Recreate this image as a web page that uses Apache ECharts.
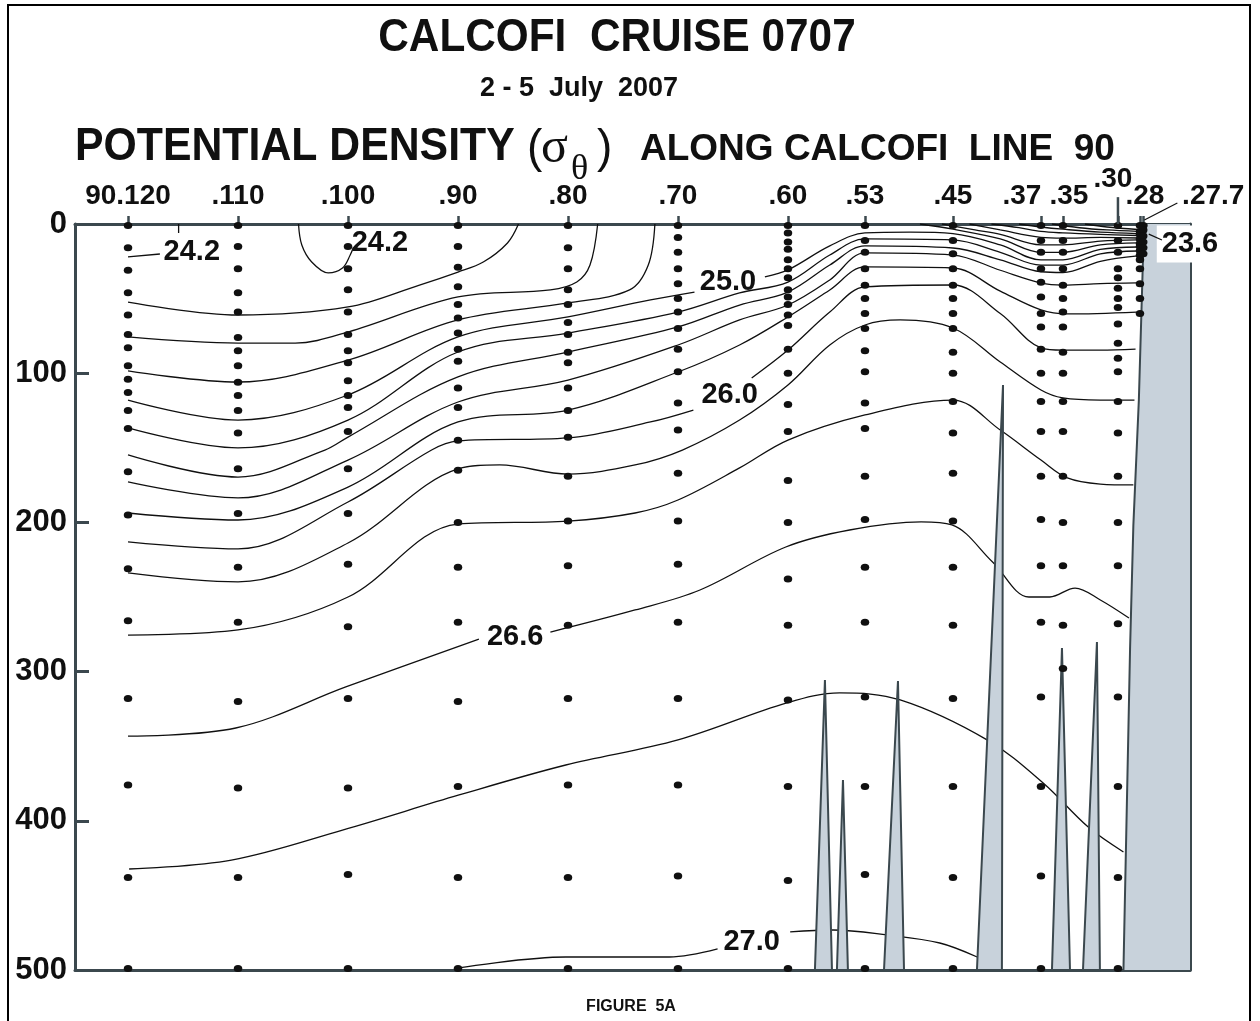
<!DOCTYPE html>
<html>
<head>
<meta charset="utf-8">
<title>CalCOFI Cruise 0707 - Potential Density, Line 90</title>
<script src="https://cdn.jsdelivr.net/npm/echarts@6/dist/echarts.min.js"></script>
<style>
  html, body { margin: 0; padding: 0; background: #ffffff; }
  #chart { width: 1260px; height: 1021px; }
</style>
</head>
<body>
<div id="chart"></div>
<script>
// ---- station axis (station number along line 90, offshore at left) ----
const stations = [120, 110, 100, 90, 80, 70, 60, 53, 45, 37, 35, 30, 28, 27.7];
const stationLabels = ['90.120', '.110', '.100', '.90', '.80', '.70', '.60', '.53', '.45', '.37', '.35', '.30', '.28', '.27.7'];
const depthTicks = [0, 100, 200, 300, 400, 500];

// ---- bottle sample depths (m) at each station ----
const bottles120 = [1, 16, 31, 46, 61, 74, 83, 95, 104, 113, 125, 137, 166, 195, 231, 266, 318, 376, 438, 499];
const bottles110 = [1, 15, 30, 46, 59, 76, 85, 95, 106, 115, 125, 140, 164, 194, 230, 267, 320, 378, 438, 499];
const bottles100 = [1, 15, 30, 44, 59, 74, 85, 93, 105, 115, 123, 139, 164, 194, 228, 270, 318, 378, 436, 499];
const bottles90  = [1, 15, 29, 42, 54, 63, 73, 84, 92, 110, 123, 145, 165, 200, 230, 267, 320, 377, 438, 499];
const bottles80  = [1, 16, 30, 44, 54, 66, 74, 86, 93, 110, 125, 143, 169, 199, 229, 269, 318, 376, 438, 499];
const bottles70  = [1, 9, 19, 30, 40, 50, 59, 70, 84, 99, 120, 138, 167, 199, 228, 267, 318, 376, 437, 499];
const bottles60  = [1, 6, 12, 17, 24, 30, 36, 44, 49, 54, 61, 68, 84, 100, 121, 139, 172, 200, 238, 269, 319, 377, 440, 499];
const bottles53  = [1, 11, 19, 30, 41, 50, 60, 70, 85, 99, 120, 137, 169, 198, 230, 267, 317, 377, 436, 499];
const bottles45  = [1, 11, 20, 30, 41, 50, 60, 70, 86, 100, 119, 140, 167, 199, 230, 269, 318, 377, 438, 499];
const bottles37  = [1, 11, 19, 30, 39, 49, 60, 69, 84, 100, 119, 139, 169, 198, 229, 267, 317, 377, 437, 499];
const bottles35  = [1, 11, 19, 30, 41, 50, 59, 69, 86, 100, 119, 139, 169, 200, 229, 269, 298];
const bottles30  = [1, 11, 19, 30, 36, 43, 50, 56, 67, 80, 90, 99, 119, 140, 169, 200, 229, 268, 317, 377, 438, 499];
const bottles28  = [1, 5, 7, 10, 13, 15, 18, 21, 24, 30, 40, 50, 60];
const bottles277 = [1, 4, 8, 12, 16, 20];
const bottleCasts = [bottles120, bottles110, bottles100, bottles90, bottles80, bottles70, bottles60,
                     bottles53, bottles45, bottles37, bottles35, bottles30, bottles28, bottles277];

// ---- isopycnals: [station, depth] traces, one sub-array per drawn piece ----
const iso23_6 = [[[33, 0], [31, 2], [28.2, 3.7]]];
const iso23_8 = [[[36, 0], [33.5, 2.5], [31, 4], [28.2, 5]]];
const iso24_0 = [[[39, 0], [37, 2], [35, 3.5], [31.6, 5.5], [28.2, 6.4]]];
const iso24_2 = [
  [[120, 22.1], [117.1, 20.1]],
  [[115.4, 6], [115.4, 0]],
  [[104.5, 0], [104.2, 14.1], [103.3, 25.5], [101.8, 32.8], [100.5, 29.5], [99.8, 20.8], [99.5, 15.4]],
  [[41.5, 0], [39, 2.5], [37, 5], [35, 6], [31.6, 7], [28.2, 7.7]]
];
const iso24_4 = [
  [[120, 52.3], [110, 61], [100, 55.6], [93.5, 40.9], [90, 32.2], [87.7, 25.5], [85.5, 12.7], [84.5, 0]],
  [[43.5, 0], [40.7, 4], [37, 9], [35, 9.5], [31.6, 9], [28.2, 9.4]]
];
const iso24_6 = [
  [[120, 75.7], [110, 79.8], [104.8, 79.8], [100, 72.4], [90, 48.9], [81.6, 44.2], [79.2, 38.9], [78, 27.5], [77.3, 0]],
  [[46, 0], [43, 4], [40.7, 7], [37, 14], [35, 14], [31.6, 11.5], [28.2, 10.7]]
];
const iso24_8 = [
  [[120, 98.5], [110, 105.9], [100, 91.2], [90, 64.3], [80, 52.9], [74.4, 44.2], [72.7, 27.5], [72.1, 0]],
  [[48, 0], [45, 3.5], [40.7, 10], [37, 19], [35, 19], [31.6, 14], [28.2, 12.7]]
];
const iso25_0 = [
  [[120, 118], [110, 131.4], [100, 114.6], [90, 75.7], [80, 62.3], [72.5, 50.9], [68.5, 45.6]],
  [[62.1, 35.5], [60, 30.8], [56.2, 14.7], [53, 6], [48.9, 5.5], [45, 6.5], [40.7, 14], [37, 24], [35, 24], [31.6, 17], [28.2, 15.4]]
];
const iso25_2 = [[[120, 136.7], [110, 150.1], [100, 131.4], [90, 85.8], [80, 73.1], [70, 59], [64.4, 46.2], [60, 38.9],
  [56.2, 20.8], [53, 10], [45, 10.7], [40.7, 19], [37, 27.5], [35, 27.5], [31.6, 20], [28.2, 18.1]]];
const iso25_4 = [[[120, 154.8], [110, 169.6], [102.1, 151.5], [100, 142.8], [90, 102.5], [80, 85.8], [70, 69], [64.4, 54.3],
  [60, 45.6], [56.2, 27.5], [53, 14.7], [45, 16.1], [40.7, 24], [37, 32], [35, 32.5], [31.6, 25], [28.2, 21.4]]];
const iso25_6 = [[[120, 172.9], [110, 183.6], [100, 158.2], [90, 119.3], [80, 104.6], [70, 81.1], [64.4, 64.3], [60, 54.3],
  [56.2, 37.5], [53, 19.4], [45, 20.8], [40.7, 31], [37, 39.5], [35, 41], [31.6, 40], [28.3, 39.5]]];
const iso25_8 = [[[120, 193.7], [110, 198.4], [100, 176.3], [90, 132.7], [80, 124.7], [70, 99.2], [64.4, 81.1], [60, 62.3],
  [56.2, 44.2], [53, 28.8], [45, 29.5], [40.7, 45], [37, 57.6], [34.6, 60.3], [28.3, 59]]];
const iso26_0 = [
  [[120, 213.1], [110, 217.8], [100, 186.3], [92.4, 151.5], [90, 145.4], [80, 143.4], [72.5, 132.7], [68.6, 124.7]],
  [[63.3, 103.2], [60, 84.5], [56.2, 59], [53, 42.2], [45, 40.9], [40.7, 60], [37, 83], [35, 84.5], [31.6, 84.5], [28.4, 83.8]]
];
const iso26_2 = [[[120, 233.9], [110, 239.9], [100, 213.8], [90, 164.2], [86.2, 161.5], [80, 167.6], [73.9, 161.5], [69.6, 151.5],
  [64.4, 131.4], [60, 107.9], [56.2, 81.1], [53, 67.7], [49.8, 64.3], [45, 69.7], [40.7, 92.5], [37, 111.3], [35, 116.6],
  [31.6, 118], [28.5, 118]]];
const iso26_4 = [[[120, 275.5], [110, 272.1], [100, 250], [90, 201.1], [80, 199.1], [73.9, 193.7], [70, 185], [64.4, 163.5],
  [60, 144.8], [53, 128], [45, 118], [40.7, 138.1], [37, 158.2], [34.6, 170.2], [31.6, 174.3], [28.6, 174.9]]];
const iso26_6 = [
  [[120, 343.2], [110.2, 337.8], [100.2, 310.3], [88.1, 278.2]],
  [[81.6, 273.5], [73.9, 258.7], [68, 245.3], [60.2, 216.5], [54.4, 205.1], [47.9, 199.7], [45.1, 201.7], [41.4, 226.5],
   [38.1, 250], [36.2, 250], [33.9, 244], [31.6, 252], [29, 264.1]]
];
const iso26_8 = [[[119.9, 432.3], [110.6, 426.3], [100.5, 406.2], [89.9, 382.7], [80.2, 362.6], [70, 345.8], [60.1, 321],
  [55.3, 314.3], [49.8, 319], [41.9, 345.8], [36.8, 374.7], [32.7, 404.2], [29.5, 420.9]]];
const iso27_0 = [
  [[90.1, 498.7], [80.2, 491.3], [70.8, 491.3], [66.4, 485.9]],
  [[59.8, 474.5], [55.9, 473.2], [51, 476.5], [46.2, 481.9], [42.8, 491.3]]
];
const isoLevels = ['23.6', '23.8', '24.0', '24.2', '24.4', '24.6', '24.8', '25.0', '25.2', '25.4', '25.6', '25.8',
                   '26.0', '26.2', '26.4', '26.6', '26.8', '27.0'];
const isoTraces = [iso23_6, iso23_8, iso24_0, iso24_2, iso24_4, iso24_6, iso24_8, iso25_0, iso25_2, iso25_4, iso25_6,
                   iso25_8, iso26_0, iso26_2, iso26_4, iso26_6, iso26_8, iso27_0];

// contour value labels: [station, depth, text]
const contourLabels = [[114.2, 18.8, '24.2'], [97.1, 12.7, '24.2'], [65.45, 38.9, '25.0'], [65.3, 114.6, '26.0'],
                       [84.8, 276.8, '26.6'], [63.3, 481.2, '27.0']];
const coastLabel = [23.45, 13.4, '23.6'];
const coastLabelLeader = [[27.2, 6.8], [26.0, 10.7]];

// ---- bottom topography ----
// seamounts: [base left station, base right station, peak station, peak depth]
const seamounts = [[57.55, 56.0, 56.64, 305.6], [55.55, 54.55, 55.0, 372.7], [51.27, 49.45, 50.0, 306.3],
                   [42.82, 40.55, 40.45, 107.9], [36.0, 34.36, 35.09, 284.2], [33.18, 31.64, 31.91, 280.2]];
// continental slope (station, depth)
const slopeStation = [27.4, 27.7, 28.1, 28.6, 28.9, 29.5];
const slopeDepth   = [0, 17, 118, 202, 285, 500];

// ---- styling ----
const FONT = '"Liberation Sans", Arial, Helvetica, sans-serif';
const SERIF = '"Liberation Serif", "DejaVu Serif", serif';
const INK = '#101010';
const AXIS = '#3b484e';
const LAND = '#c8d2db';
const X_MIN = 23.45, X_MAX = 124.82;

const labelTweaks = { '37': 'l', '35': 'r', '30': 'h', '28': 'k', '27.7': 'f' };
const baseLbl = { fontSize: 28, fontWeight: 'bold', color: INK, fontFamily: FONT };

const series = [];

// isopycnals
isoTraces.forEach((segs, k) => {
  segs.forEach(seg => {
    series.push({
      name: 'σθ ' + isoLevels[k], type: 'line', data: seg, smooth: 0.35, symbol: 'none',
      silent: true, clip: true, z: 2,
      lineStyle: { color: INK, width: 1.3, opacity: 1 }
    });
  });
});

// bottle positions
const bottleData = [];
bottleCasts.forEach((cast, i) => cast.forEach(d => bottleData.push([stations[i], d])));
series.push({
  name: 'bottles', type: 'scatter', data: bottleData, symbol: 'circle', symbolSize: [8.5, 7],
  itemStyle: { color: INK, opacity: 1 }, clip: false, silent: true, z: 5
});

// seamounts
series.push({
  name: 'seamounts', type: 'custom', data: seamounts, z: 4, silent: true,
  renderItem: (params, api) => {
    const l = api.coord([api.value(0), 500]);
    const r = api.coord([api.value(1), 500]);
    const a = api.coord([api.value(2), api.value(3)]);
    return { type: 'polygon', shape: { points: [l, a, r] },
             style: { fill: LAND, stroke: AXIS, lineWidth: 2 } };
  }
});

// continental slope / land
series.push({
  name: 'slope', type: 'custom', data: [0], z: 4, silent: true,
  renderItem: (params, api) => {
    const edge = slopeStation.map((s, i) => api.coord([s, slopeDepth[i]]));
    const fillPts = edge.concat([api.coord([X_MIN, 500]), api.coord([X_MIN, 0])]);
    return { type: 'group', children: [
      { type: 'polygon', shape: { points: fillPts }, style: { fill: LAND, stroke: null } },
      { type: 'polyline', shape: { points: edge }, style: { stroke: AXIS, lineWidth: 2, fill: null } }
    ] };
  }
});

// contour labels
series.push({
  name: 'contour labels', type: 'scatter', symbolSize: 1, clip: false, silent: true, z: 7,
  itemStyle: { color: 'rgba(0,0,0,0)', opacity: 1 },
  data: contourLabels.map(([s, d, t]) => ({ value: [s, d], name: t })).concat([{
    value: [coastLabel[0], coastLabel[1]], name: coastLabel[2],
    label: { backgroundColor: '#ffffff', padding: [5, 5, 3, 5] }
  }]),
  label: { show: true, position: 'inside', formatter: p => p.name, fontSize: 29, fontWeight: 'bold',
           color: INK, opacity: 1, textBorderWidth: 0, fontFamily: FONT }
});

// leader for the 23.6 label
series.push({ type: 'line', data: coastLabelLeader, symbol: 'none', silent: true, clip: false, z: 8,
              lineStyle: { color: INK, width: 1.2 } });
// taller tick for station .30 and leader for station .27.7
series.push({ type: 'line', data: [[30, 0], [30, -18]], symbol: 'none', silent: true, clip: false, z: 8,
              lineStyle: { color: AXIS, width: 2.5 } });
series.push({ type: 'line', data: [[27.6, -2.7], [24.6, -14.1]], symbol: 'none', silent: true, clip: false, z: 8,
              lineStyle: { color: INK, width: 1.2 } });

const option = {
  animation: false,
  backgroundColor: '#ffffff',
  grid: { left: 75, right: 70, top: 224, bottom: 51, containLabel: false },
  xAxis: [
    {
      type: 'value', position: 'top', min: X_MIN, max: X_MAX, inverse: true,
      axisLine: { show: true, lineStyle: { color: AXIS, width: 3 } },
      axisTick: { show: true, customValues: stations, length: 8, inside: false,
                  lineStyle: { color: AXIS, width: 2.5 } },
      axisLabel: {
        show: true, customValues: stations, margin: 14, ...baseLbl,
        formatter: v => {
          const i = stations.indexOf(v);
          const key = labelTweaks[String(v)] || 'n';
          return '{' + key + '|' + stationLabels[i] + '}';
        },
        rich: {
          n: { ...baseLbl },
          l: { ...baseLbl, padding: [0, 38, 0, 0] },
          r: { ...baseLbl, padding: [0, 0, 0, 12] },
          h: { ...baseLbl, padding: [0, 10, 17, 0] },
          k: { ...baseLbl, padding: [0, 0, 0, 10] },
          f: { ...baseLbl, padding: [0, 0, 0, 140] }
        }
      },
      splitLine: { show: false }
    },
    {
      type: 'value', position: 'bottom', min: X_MIN, max: X_MAX, inverse: true,
      axisLine: { show: true, onZero: false, lineStyle: { color: AXIS, width: 3 } },
      axisTick: { show: false }, axisLabel: { show: false }, splitLine: { show: false }
    }
  ],
  yAxis: [
    {
      type: 'value', position: 'left', min: 0, max: 500, interval: 100, inverse: true,
      axisLine: { show: true, onZero: false, lineStyle: { color: AXIS, width: 3 } },
      axisTick: { show: true, inside: true, length: 14, lineStyle: { color: AXIS, width: 3 } },
      axisLabel: { show: true, customValues: depthTicks, margin: 8, fontSize: 31, fontWeight: 'bold',
                   color: INK, fontFamily: FONT },
      splitLine: { show: false }
    },
    {
      type: 'value', position: 'right', min: 0, max: 500, interval: 100, inverse: true,
      axisLine: { show: true, onZero: false, lineStyle: { color: AXIS, width: 3 } },
      axisTick: { show: true, inside: true, length: 14, lineStyle: { color: AXIS, width: 3 } },
      axisLabel: { show: false }, splitLine: { show: false }
    }
  ],
  graphic: [
    { type: 'rect', shape: { x: 8, y: 5, width: 1242, height: 1040 },
      style: { fill: null, stroke: '#000000', lineWidth: 2 }, z: 0 },
    { type: 'text', x: 617, y: 38, scaleX: 0.92,
      style: { text: 'CALCOFI  CRUISE 0707', x: 0, y: 0, textAlign: 'center', textVerticalAlign: 'middle',
               font: 'bold 46px ' + FONT, fill: INK } },
    { type: 'text', x: 579, y: 89,
      style: { text: '2 - 5  July  2007', x: 0, y: 0, textAlign: 'center', textVerticalAlign: 'middle',
               font: 'bold 27px ' + FONT, fill: INK } },
    { type: 'text', x: 75, y: 147, scaleX: 0.93,
      style: { text: 'POTENTIAL DENSITY', x: 0, y: 0, textAlign: 'left', textVerticalAlign: 'middle',
               font: 'bold 46px ' + FONT, fill: INK } },
    { type: 'text', x: 527, y: 149,
      style: { text: '(', x: 0, y: 0, textAlign: 'left', textVerticalAlign: 'middle',
               font: '46px ' + FONT, fill: INK } },
    { type: 'text', x: 541, y: 149,
      style: { text: 'σ', x: 0, y: 0, textAlign: 'left', textVerticalAlign: 'middle',
               font: '50px ' + SERIF, fill: INK } },
    { type: 'text', x: 571, y: 170,
      style: { text: 'θ', x: 0, y: 0, textAlign: 'left', textVerticalAlign: 'middle',
               font: '36px ' + SERIF, fill: INK } },
    { type: 'text', x: 597, y: 149,
      style: { text: ')', x: 0, y: 0, textAlign: 'left', textVerticalAlign: 'middle',
               font: '46px ' + FONT, fill: INK } },
    { type: 'text', x: 640, y: 150,
      style: { text: 'ALONG CALCOFI  LINE  90', x: 0, y: 0, textAlign: 'left', textVerticalAlign: 'middle',
               font: 'bold 37px ' + FONT, fill: INK } },
    { type: 'text', x: 631, y: 1007,
      style: { text: 'FIGURE  5A', x: 0, y: 0, textAlign: 'center', textVerticalAlign: 'middle',
               font: 'bold 16px ' + FONT, fill: INK } }
  ],
  series: series
};

const chart = echarts.init(document.getElementById('chart'), null, { renderer: 'canvas' });
chart.setOption(option);
</script>
</body>
</html>
